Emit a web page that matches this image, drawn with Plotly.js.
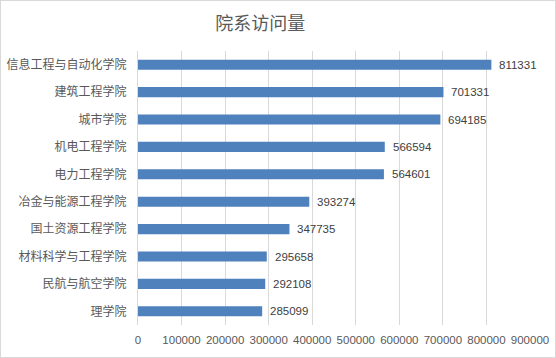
<!DOCTYPE html>
<html><head><meta charset="utf-8">
<script src="https://cdn.plot.ly/plotly-3.0.1.min.js"></script>
<style>
html,body{margin:0;padding:0;background:#fff;}
#chart{width:556px;height:358px;box-sizing:border-box;border:1px solid #d9d9d9;}
</style></head>
<body><div id="chart"></div>
<script>
const categories = ["信息工程与自动化学院","建筑工程学院","城市学院","机电工程学院","电力工程学院","冶金与能源工程学院","国土资源工程学院","材料科学与工程学院","民航与航空学院","理学院"];
const visits = [811331,701331,694185,566594,564601,393274,347735,295658,292108,285099];
const xTicks = [0,100000,200000,300000,400000,500000,600000,700000,800000,900000];
const titleText = "院系访问量";

const FONT = "Liberation Sans, Noto Sans CJK SC, sans-serif";
const trace = {
  type:'bar', orientation:'h', x:visits, y:categories,
  marker:{color:'#4f81bd'}, hoverinfo:'none'
};
const annotations = visits.map((v,i)=>({
  x:v, y:categories[i], xref:'x', yref:'y', text:String(v),
  showarrow:false, xanchor:'left', xshift:6,
  font:{family:FONT,size:11.5,color:'#404040'}
}));
const layout = {
  width:554, height:356,
  margin:{l:137,r:25,t:50,b:32},
  paper_bgcolor:'#fff', plot_bgcolor:'#fff',
  title:{text:titleText, font:{family:FONT,size:18,color:'#595959'}, x:0.468, xref:'container', y:0.935, yref:'container', yanchor:'middle'},
  bargap:0.63,
  showlegend:false,
  xaxis:{range:[0,900000], tickvals:xTicks, ticktext:xTicks.map(String), showgrid:true, gridcolor:'#d9d9d9', gridwidth:1,
    zeroline:false, showline:false, ticks:'', ticklabelstandoff:6,
    tickfont:{family:FONT,size:11.5,color:'#595959'}, fixedrange:true},
  yaxis:{autorange:'reversed', showgrid:false, zeroline:false, showline:true, linecolor:'#d9d9d9', linewidth:1,
    ticks:'', ticklabelstandoff:8, tickfont:{family:FONT,size:12,color:'#595959'}, fixedrange:true},
  annotations:annotations
};
Plotly.newPlot('chart',[trace],layout,{displayModeBar:false,staticPlot:true});
</script></body></html>
